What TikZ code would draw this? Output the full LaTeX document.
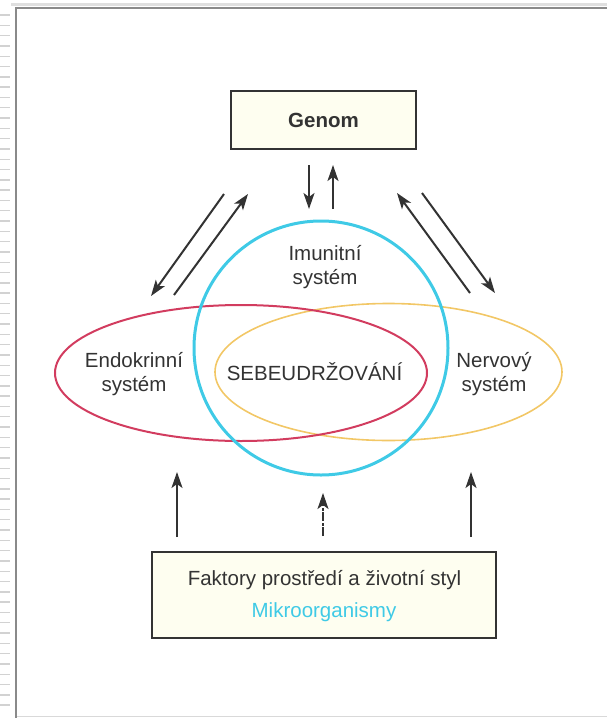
\documentclass[tikz,border=0pt]{standalone}
\usepackage{fontspec}
\setmainfont{Liberation Sans}
\usetikzlibrary{arrows.meta,shapes.geometric}

\definecolor{inkgray}{HTML}{333333}
\definecolor{boxfill}{HTML}{FEFEF0}
\definecolor{endored}{HTML}{D23C5F}
\definecolor{nervorange}{HTML}{F2C766}
\definecolor{imuncyan}{HTML}{3FCAE6}
\definecolor{framegray}{HTML}{8A8A8A}

\tikzset{
  boxnode/.style={draw=inkgray, fill=boxfill, line width=1.1pt, inner sep=0pt},
  labeltext/.style={font=\fontsize{20.5}{24}\selectfont, text=inkgray, align=center},
  arr/.style={draw=inkgray, line width=2pt, -{Stealth[length=16pt, width=11pt, inset=4pt]}},
}

\begin{document}
\begin{tikzpicture}[x=1pt, y=-1pt]
        \useasboundingbox (0,0) rectangle (607,718);

        % page edge
        \foreach \i in {0,...,67}
            \draw [gray!35, line width=1.4pt] (0, 15+10.3*\i) -- (10, 15+10.3*\i);
        \draw [gray!25, line width=3pt] (11, 4.5) -- (607, 4.5);
        \draw [gray!30, line width=1pt] (16, 716.5) -- (607, 716.5);
        \draw [framegray, line width=1.2pt] (16, 718) -- (16, 8) -- (607, 8);

        \node [boxnode, minimum width=185pt, minimum height=58pt, text=inkgray,
               font=\bfseries\fontsize{20.5}{24}\selectfont] (genom) at (323.5, 120) {Genom};
        \node [boxnode, minimum width=344pt, minimum height=86pt] (env) at (324, 595) {};
        \node [labeltext] (envtext) at (324.5, 580) {Faktory prostředí a životní styl};
        \node [labeltext, text=imuncyan] (microtext) at (324, 612) {Mikroorganismy};

        \node [ellipse, draw=nervorange, line width=1.6pt, inner sep=0pt,
               minimum width=347pt, minimum height=137pt] (nerv) at (388.5, 372) {};
        \node [ellipse, draw=endored, line width=2pt, inner sep=0pt,
               minimum width=372pt, minimum height=136pt] (endo) at (241, 373) {};
        \node [circle, draw=imuncyan, line width=3pt, inner sep=0pt,
               minimum size=254pt] (imun) at (321, 348) {};

        \node [labeltext] (endotext) at (134, 374) {Endokrinní\\systém};
        \node [labeltext] (nervtext) at (494, 374) {Nervový\\systém};
        \node [labeltext] (imuntext) at (325, 267) {Imunitní\\systém};
        \node [labeltext] (selftext) at (314.5, 372) {SEBEUDRŽOVÁNÍ};

        \coordinate (gdA) at (309, 165);
        \coordinate (gdB) at (309, 209);
        \coordinate (guA) at (333, 209);
        \coordinate (guB) at (333, 165);
        \coordinate (ldA) at (224, 194);
        \coordinate (ldB) at (151, 296);
        \coordinate (luA) at (174, 295);
        \coordinate (luB) at (248, 194);
        \coordinate (ruA) at (470, 293);
        \coordinate (ruB) at (397, 193);
        \coordinate (rdA) at (422, 193);
        \coordinate (rdB) at (495, 293);
        \coordinate (blA) at (177, 537);
        \coordinate (blB) at (177, 472);
        \coordinate (bmA) at (323, 536);
        \coordinate (bmB) at (323, 493);
        \coordinate (brA) at (471, 537);
        \coordinate (brB) at (471, 472);

        \draw [arr] (gdA) -- (gdB);
        \draw [arr] (guA) -- (guB);
        \draw [arr] (ldA) -- (ldB);
        \draw [arr] (luA) -- (luB);
        \draw [arr] (ruA) -- (ruB);
        \draw [arr] (rdA) -- (rdB);
        \draw [arr] (blA) -- (blB);
        \draw [arr, line width=1.6pt, dash pattern=on 9pt off 1.5pt on 3pt off 1.5pt] (bmA) -- (bmB);
        \draw [arr] (brA) -- (brB);
    \end{tikzpicture}
\end{document}
